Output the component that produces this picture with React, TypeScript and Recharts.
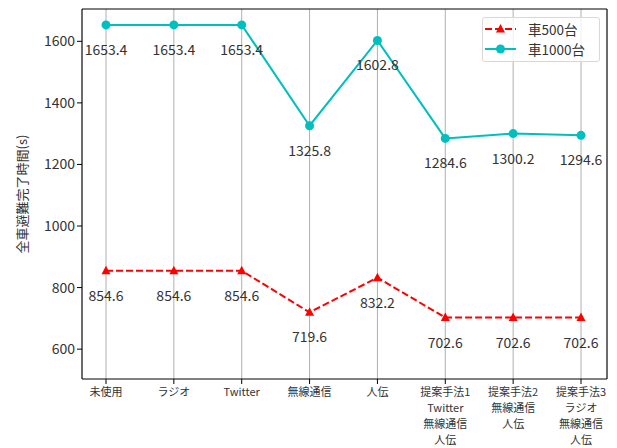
import {
  LineChart,
  Line,
  XAxis,
  YAxis,
  CartesianGrid,
  LabelList,
  Label,
} from 'recharts';

const categories = [
  '未使用',
  'ラジオ',
  'Twitter',
  '無線通信',
  '人伝',
  '提案手法1\nTwitter\n無線通信\n人伝',
  '提案手法2\n無線通信\n人伝',
  '提案手法3\nラジオ\n無線通信\n人伝',
];
const cars500 = [854.6, 854.6, 854.6, 719.6, 832.2, 702.6, 702.6, 702.6];
const cars1000 = [1653.4, 1653.4, 1653.4, 1325.8, 1602.8, 1284.6, 1300.2, 1294.6];
const yTicks = [600, 800, 1000, 1200, 1400, 1600];

const data = categories.map((name, i) => ({
  name,
  c500: cars500[i],
  c1000: cars1000[i],
}));

const FONT = '"Noto Sans CJK JP", "Noto Sans", sans-serif';
const TEXT = '#333';
const RED = '#ff0000';
const CYAN = '#00bfbf';
const DOMAIN: [number, number] = [503, 1705];

function XTick(props: any) {
  const { x, y, payload } = props;
  const lines = String(payload.value).split('\n');
  return (
    <g>
      {lines.map((l, i) => (
        <text
          key={i}
          x={x}
          y={y + 10 + i * 16}
          textAnchor="middle"
          fontSize={11}
          fill={TEXT}
          fontFamily={FONT}
        >
          {l}
        </text>
      ))}
    </g>
  );
}

function valueLabel(props: any) {
  const { x, y, value } = props;
  return (
    <text
      x={x}
      y={y + 24}
      textAnchor="middle"
      dominantBaseline="central"
      fontSize={14}
      fill={TEXT}
      fontFamily={FONT}
    >
      {value}
    </text>
  );
}

function Triangle(props: any) {
  const { cx, cy } = props;
  if (cx == null || cy == null) return null;
  return (
    <polygon
      points={`${cx},${cy - 5} ${cx - 4.5},${cy + 3.5} ${cx + 4.5},${cy + 3.5}`}
      fill={RED}
    />
  );
}

function LegendBox() {
  const row = (label: string, color: string, tri: boolean, dashed: boolean) => (
    <div style={{ display: 'flex', alignItems: 'center', height: 20 }}>
      <svg width={31} height={12} style={{ marginRight: 12 }}>
        <line
          x1={0}
          x2={31}
          y1={6}
          y2={6}
          stroke={color}
          strokeWidth={2}
          strokeDasharray={dashed ? '7 3' : undefined}
        />
        {tri ? (
          <polygon points="15.5,1 11,9.5 20,9.5" fill={color} />
        ) : (
          <circle cx={15.5} cy={6} r={4.5} fill={color} />
        )}
      </svg>
      <span style={{ fontSize: 13.5, color: TEXT, fontFamily: FONT }}>{label}</span>
    </div>
  );
  return (
    <div
      style={{
        position: 'absolute',
        left: 482,
        top: 17,
        border: '1px solid #d8d8d8',
        borderRadius: 3,
        background: 'rgba(255,255,255,0.8)',
        padding: '1px 8px 2px 2px',
        width: 106,
      }}
    >
      {row('車500台', RED, true, true)}
      {row('車1000台', CYAN, false, false)}
    </div>
  );
}

export default function App() {
  return (
    <div style={{ position: 'absolute', left: 0, top: 0, width: 617, height: 448, background: '#fff' }}>
      <LineChart
        width={617}
        height={448}
        data={data}
        margin={{ top: 8, right: 9, left: 0, bottom: 0 }}
      >
        <CartesianGrid horizontal={false} stroke="#b0b0b0" strokeWidth={1} />
        <XAxis
          dataKey="name"
          interval={0}
          height={69}
          padding={{ left: 24, right: 26 }}
          stroke="#000"
          tickSize={5}
          tick={<XTick />}
        />
        <XAxis
          xAxisId="top"
          orientation="top"
          dataKey="name"
          height={1}
          tick={false}
          tickLine={false}
          stroke="#000"
          padding={{ left: 24, right: 26 }}
        />
        <YAxis
          width={82}
          domain={DOMAIN}
          ticks={yTicks}
          allowDataOverflow
          stroke="#000"
          tickSize={5}
          tick={{ fontSize: 14, fill: TEXT, fontFamily: FONT }}
        >
          <Label
            value="全車避難完了時間(s)"
            angle={-90}
            position="insideLeft"
            offset={22}
            style={{ fontSize: 13, fill: TEXT, fontFamily: FONT, textAnchor: 'middle' }}
          />
        </YAxis>
        <YAxis
          yAxisId="right"
          orientation="right"
          width={1}
          domain={DOMAIN}
          tick={false}
          tickLine={false}
          stroke="#000"
        />
        <Line
          dataKey="c500"
          stroke={RED}
          strokeWidth={2}
          strokeDasharray="7 3"
          dot={<Triangle />}
          activeDot={false}
          isAnimationActive={false}
        >
          <LabelList dataKey="c500" content={valueLabel} />
        </Line>
        <Line
          dataKey="c1000"
          stroke={CYAN}
          strokeWidth={2}
          dot={{ r: 4.5, fill: CYAN, stroke: CYAN, strokeWidth: 0 }}
          activeDot={false}
          isAnimationActive={false}
        >
          <LabelList dataKey="c1000" content={valueLabel} />
        </Line>
      </LineChart>
      <LegendBox />
    </div>
  );
}
